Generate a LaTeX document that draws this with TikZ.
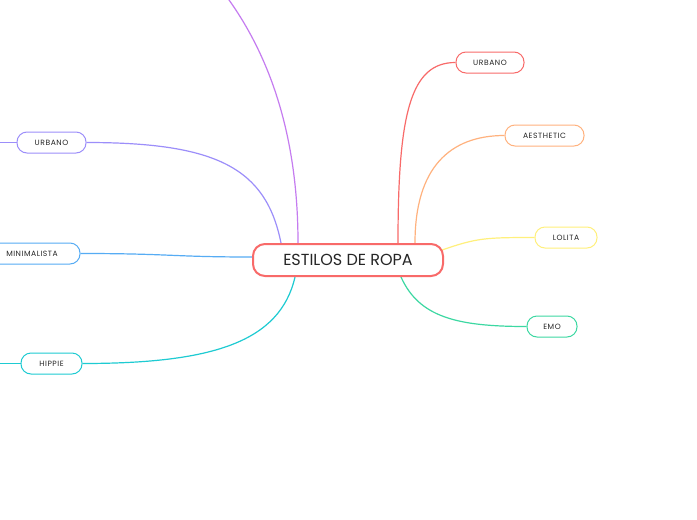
\documentclass[tikz,border=0pt]{standalone}
\usepackage{fontspec}
\setmainfont{Poppins}
\newfontfamily\childfont[LetterSpace=7]{Poppins}
\usepackage{tikz}
\usetikzlibrary{positioning,backgrounds}

\definecolor{rootred}{HTML}{F86A69}
\definecolor{orangeae}{HTML}{FFB27E}
\definecolor{yellowlo}{HTML}{FFF07C}
\definecolor{greenemo}{HTML}{3CD8A2}
\definecolor{violetul}{HTML}{9C8EFA}
\definecolor{bluemi}{HTML}{56ACF4}
\definecolor{tealhi}{HTML}{1ECBD2}
\definecolor{violettop}{HTML}{C57CF0}
\definecolor{txt}{HTML}{262626}

\tikzset{
  rootbox/.style={draw=rootred, line width=2pt, rounded corners=12pt, fill=white,
    minimum width=190pt, minimum height=32pt, text=txt, font=\fontsize{16}{16}\selectfont},
  childbox/.style={draw=#1, line width=1pt, rounded corners=10pt, fill=white,
    minimum height=21pt, inner xsep=2pt, text=txt, font=\childfont\fontsize{7.6}{8}\selectfont},
  branch/.style={draw=#1, line width=1.2pt}
}

\begin{document}
\begin{tikzpicture}[x=1pt,y=-1pt]

\useasboundingbox (0,0) rectangle (697,520);

% central topic
\node[rootbox] (root) at (348,260){ESTILOS DE ROPA};

% right side
\node[childbox=rootred, minimum width=68pt] (ur) at (490,62.5){URBANO};
\node[childbox=orangeae, minimum width=79pt] (ae) at (544.5,135.5){AESTHETIC};
\node[childbox=yellowlo, minimum width=62pt] (lo) at (566,237.5){LOLITA};
\node[childbox=greenemo, minimum width=50pt] (emo) at (552,326.5){EMO};

% left side
\node[childbox=violetul, minimum width=69pt] (ul) at (51.5,142.5){URBANO};
\node[childbox=bluemi, minimum width=96pt] (mi) at (32,253.5){MINIMALISTA};
\node[childbox=tealhi, minimum width=61pt] (hi) at (51.5,363.5){HIPPIE};

% ends beyond the page
\coordinate (top) at (205,-30);
\coordinate (ulend) at (-10,142.5);
\coordinate (hiend) at (-10,363.5);

\begin{scope}[on background layer]
\fill[white] (0,0) rectangle (697,520);
\path[branch=rootred] ([xshift=50pt]root.north) .. controls +(0,-130) and +(-45,0) .. (ur.west);
\path[branch=orangeae] ([xshift=67pt]root.north) .. controls +(0,-75) and +(-55,0) .. (ae.west);
\path[branch=yellowlo] ([xshift=-2pt,yshift=10pt]root.east) .. controls +(35,-12) and +(-50,0) .. (lo.west);
\path[branch=greenemo] ([xshift=53pt]root.south) .. controls +(18,40) and +(-70,0) .. (emo.west);
\path[branch=violetul] ([xshift=-67pt]root.north) .. controls +(-15,-75) and +(130,0) .. (ul.east);
\path[branch=bluemi] ([yshift=3pt]root.west) .. controls +(-80,0) and +(90,0) .. (mi.east);
\path[branch=tealhi] ([xshift=-53pt]root.south) .. controls +(-15,65) and +(130,0) .. (hi.east);
\path[branch=violettop] ([xshift=-50pt]root.north) .. controls +(0,-140) and +(45,50) .. (top);
\path[branch=violetul] (ul.west) -- (ulend);
\path[branch=tealhi] (hi.west) -- (hiend);
\end{scope}

\end{tikzpicture}
\end{document}
